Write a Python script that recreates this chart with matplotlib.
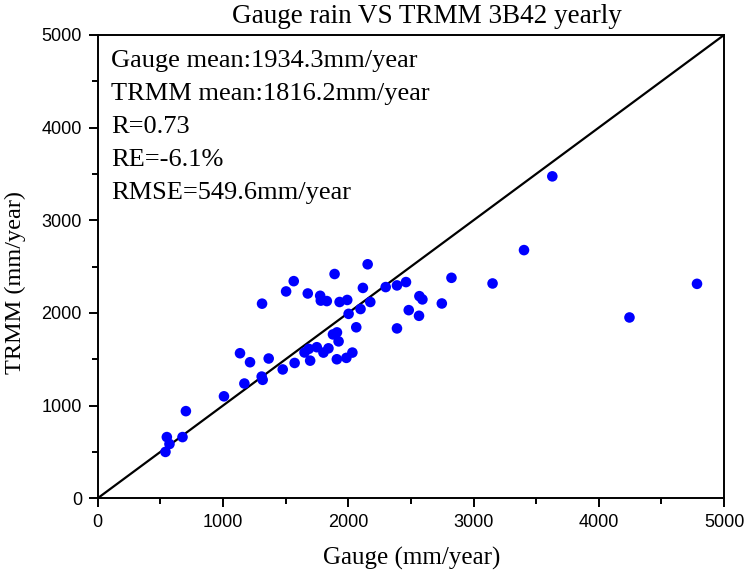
import matplotlib
matplotlib.use("Agg")
import matplotlib.pyplot as plt
from matplotlib.ticker import MultipleLocator

# yearly rainfall per station (mm/year)
gauge = [541, 552, 573, 677, 704, 1008, 1171, 1136, 1216, 1365,
         1312, 1309, 1317, 1477, 1504, 1565, 1572, 1651, 1685, 1696,
         1677, 1749, 1802, 1842, 1776, 1781, 1829, 1891, 1931, 1992,
         2155, 2117, 2176, 2098, 2003, 1878, 1910, 1923, 1909, 1985,
         2033, 2064, 2299, 2389, 2461, 2389, 2483, 2568, 2592, 2565,
         2747, 2824, 3152, 3403, 3629, 4245, 4784]
trmm = [500, 660, 585, 660, 940, 1100, 1238, 1565, 1468, 1508,
        2100, 1313, 1278, 1390, 2232, 2343, 1460, 1573, 1612, 1485,
        2210, 1630, 1572, 1618, 2185, 2133, 2128, 2420, 2118, 2140,
        2525, 2270, 2118, 2042, 1990, 1768, 1790, 1693, 1500, 1515,
        1572, 1845, 2279, 2297, 2333, 1833, 2030, 2181, 2146, 1969,
        2102, 2379, 2318, 2678, 3474, 1951, 2314]

stats = ["Gauge mean:1934.3mm/year", "TRMM mean:1816.2mm/year",
         "R=0.73", "RE=-6.1%", "RMSE=549.6mm/year"]
lim = [0, 5000]

serif = "Liberation Serif"
sans = "Liberation Sans"

fig = plt.figure(figsize=(7.48, 5.76), dpi=100)
ax = fig.add_axes([0.1306, 0.135, 0.8374, 0.8043])

ax.plot(lim, lim, color="black", lw=1.6, zorder=2)
ax.scatter(gauge, trmm, s=58, color="#0000ff", edgecolors="none", zorder=3)

ax.set_xlim(lim)
ax.set_ylim(lim)
ax.xaxis.set_major_locator(MultipleLocator(1000))
ax.yaxis.set_major_locator(MultipleLocator(1000))
ax.xaxis.set_minor_locator(MultipleLocator(500))
ax.yaxis.set_minor_locator(MultipleLocator(500))
ax.tick_params(which="major", direction="out", length=6.8, width=1.4, pad=4.5)
ax.tick_params(which="minor", direction="out", length=4, width=1.4)
for lab in ax.get_xticklabels() + ax.get_yticklabels():
    lab.set_family(sans)
    lab.set_fontsize(13)
for sp in ax.spines.values():
    sp.set_linewidth(1.4)

ax.set_title("Gauge rain VS TRMM 3B42 yearly", family=serif, fontsize=19.5,
             pad=8.6, x=0.526)
ax.set_xlabel("Gauge (mm/year)", family=serif, fontsize=18)
ax.set_ylabel("TRMM (mm/year)", family=serif, fontsize=17.5)
ax.xaxis.set_label_coords(0.502, -0.106)
ax.yaxis.set_label_coords(-0.1145, 0.465)

for i, s in enumerate(stats):
    ax.text(0.021, 0.9316 - i * 0.0712, s, transform=ax.transAxes,
            family=serif, fontsize=19, va="baseline", ha="left")

fig.savefig("out.png", dpi=100)
